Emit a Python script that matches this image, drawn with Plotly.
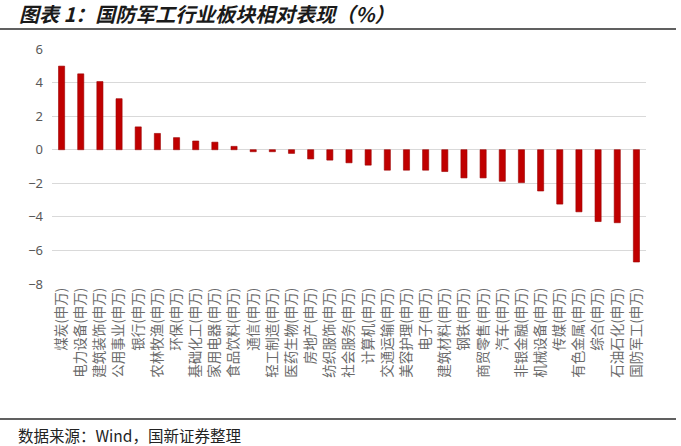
import plotly.graph_objects as go

# 数据
sectors = ['煤炭', '电力设备', '建筑装饰', '公用事业', '银行', '农林牧渔', '环保', '基础化工',
           '家用电器', '食品饮料', '通信', '轻工制造', '医药生物', '房地产', '纺织服饰', '社会服务',
           '计算机', '交通运输', '美容护理', '电子', '建筑材料', '钢铁', '商贸零售', '汽车',
           '非银金融', '机械设备', '传媒', '有色金属', '综合', '石油石化', '国防军工']
relative_perf = [4.98, 4.52, 4.06, 3.04, 1.36, 0.97, 0.72, 0.52, 0.45, 0.2, -0.12, -0.12,
                 -0.22, -0.55, -0.62, -0.78, -0.92, -1.22, -1.22, -1.22, -1.3, -1.68, -1.68,
                 -1.88, -1.96, -2.46, -3.24, -3.7, -4.28, -4.35, -6.69]
labels = [s + '(申万)' for s in sectors]
y_ticks = [-8, -6, -4, -2, 0, 2, 4, 6]

W, H = 681, 446
L, R, T, B = 52, 35, 49, 162
pw, ph = W - L - R, H - T - B


def px(x):
    return (x - L) / pw


def py(y):
    return (H - B - y) / ph


fig = go.Figure()
fig.add_trace(go.Bar(x=labels, y=relative_perf,
                     marker=dict(color='#C00000', line=dict(color='#9a0000', width=0.6))))

fig.update_layout(
    width=W, height=H,
    margin=dict(l=L, r=R, t=T, b=B),
    paper_bgcolor='white', plot_bgcolor='white',
    bargap=0.68, showlegend=False,
    font=dict(family='Noto Sans CJK SC', color='#595959'),
    xaxis=dict(tickangle=-90, tickfont=dict(size=13.5, color='#6a6a6a'),
               showgrid=False, ticks='', showline=False),
    yaxis=dict(range=[-8, 6], tickvals=y_ticks, showgrid=True, gridcolor='#d9d9d9', gridwidth=1,
               zeroline=True, zerolinecolor='#d9d9d9', zerolinewidth=1,
               tickfont=dict(size=13, family='Noto Sans, sans-serif', color='#595959'),
               ticklabelstandoff=8),
    shapes=[
        dict(type='line', xref='paper', yref='paper', x0=px(0), x1=px(676), y0=py(29), y1=py(29),
             line=dict(color='#606060', width=2)),
        dict(type='line', xref='paper', yref='paper', x0=px(0), x1=px(676), y0=py(419), y1=py(419),
             line=dict(color='#606060', width=2)),
    ],
    annotations=[
        dict(text='<b><i>图表 1：国防军工行业板块相对表现（%）</i></b>', xref='paper', yref='paper',
             x=px(17), y=py(14), xanchor='left', yanchor='middle', showarrow=False,
             font=dict(size=20, color='#1a1a1a', family='Noto Sans CJK SC')),
        dict(text='数据来源：Wind，国新证券整理', xref='paper', yref='paper',
             x=px(16), y=py(435), xanchor='left', yanchor='middle', showarrow=False,
             font=dict(size=15.5, color='#222222', family='Noto Sans CJK SC')),
    ],
)

# 去掉页面默认边距，让图正好铺满窗口
fig.write_html("out.html", config={'displayModeBar': False},
               post_script="document.body.style.margin='0';")
